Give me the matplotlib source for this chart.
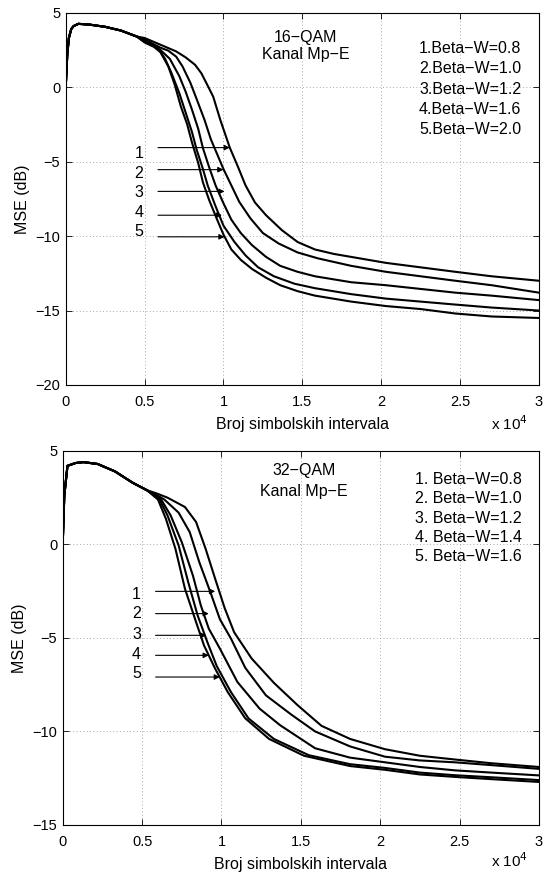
import numpy as np
import matplotlib
matplotlib.use('Agg')
import matplotlib.pyplot as plt

plt.rcParams['font.family'] = ['Liberation Sans', 'DejaVu Sans']
plt.rcParams['font.size'] = 11.5

# x in units of 1e4 symbol intervals, y in dB
# ---------------- 16-QAM ----------------
x16_start = [0, 0.01, 0.02, 0.035, 0.05, 0.08, 0.15, 0.25, 0.35, 0.45]
y16_start = [0, 2.2, 3.3, 3.9, 4.1, 4.25, 4.2, 4.05, 3.8, 3.4]

x16_1 = [0.5, 0.6, 0.7, 0.76, 0.82, 0.86, 0.9, 0.935, 0.98, 1.04, 1.09, 1.14, 1.2, 1.27, 1.37, 1.47, 1.58, 1.7, 1.81, 2.03, 2.25, 2.47, 2.7, 3.0]
y16_1 = [3.3, 2.85, 2.4, 2.0, 1.5, 0.93, 0.1, -0.64, -2.2, -4.06, -5.3, -6.6, -7.75, -8.6, -9.6, -10.4, -10.9, -11.2, -11.4, -11.8, -12.1, -12.4, -12.7, -13.0]
x16_2 = [0.5, 0.6, 0.65, 0.7, 0.74, 0.79, 0.83, 0.88, 0.92, 0.96, 1.0, 1.05, 1.1, 1.17, 1.25, 1.35, 1.47, 1.6, 1.81, 2.03, 2.25, 2.47, 2.7, 3.0]
y16_2 = [3.2, 2.65, 2.45, 2.05, 1.4, 0.3, -0.8, -2.2, -3.5, -4.5, -5.5, -6.6, -7.7, -8.8, -9.8, -10.5, -11.1, -11.5, -12.0, -12.4, -12.7, -13.0, -13.3, -13.8]
x16_3 = [0.5, 0.6, 0.66, 0.72, 0.76, 0.8, 0.84, 0.87, 0.91, 0.95, 1.0, 1.05, 1.11, 1.18, 1.27, 1.36, 1.47, 1.58, 1.81, 2.03, 2.25, 2.47, 2.7, 3.0]
y16_3 = [3.15, 2.5, 1.9, 0.74, -0.3, -1.5, -2.8, -4.1, -5.4, -6.6, -7.8, -8.9, -9.8, -10.6, -11.4, -12.0, -12.4, -12.7, -13.1, -13.3, -13.55, -13.8, -14.0, -14.3]
x16_4 = [0.5, 0.58, 0.63, 0.67, 0.72, 0.76, 0.8, 0.83, 0.87, 0.9, 0.95, 1.0, 1.07, 1.14, 1.22, 1.32, 1.45, 1.58, 1.81, 2.03, 2.25, 2.47, 2.7, 3.0]
y16_4 = [3.05, 2.7, 1.9, 0.96, -0.4, -1.7, -3.0, -4.2, -5.5, -6.6, -8.0, -9.3, -10.4, -11.3, -12.1, -12.7, -13.2, -13.5, -13.9, -14.2, -14.4, -14.6, -14.8, -15.0]
x16_5 = [0.5, 0.56, 0.6, 0.65, 0.69, 0.73, 0.77, 0.8, 0.84, 0.87, 0.91, 0.96, 1.0, 1.05, 1.11, 1.18, 1.27, 1.36, 1.47, 1.58, 1.81, 2.03, 2.25, 2.47, 2.7, 3.0]
y16_5 = [3.0, 2.7, 2.35, 1.4, 0.2, -1.3, -2.5, -3.7, -5.1, -6.4, -7.6, -8.9, -9.9, -10.9, -11.6, -12.2, -12.8, -13.3, -13.7, -14.0, -14.4, -14.7, -14.9, -15.2, -15.4, -15.5]

labels16 = ['1.Beta\u2212W=0.8', '2.Beta\u2212W=1.0', '3.Beta\u2212W=1.2',
            '4.Beta\u2212W=1.6', '5.Beta\u2212W=2.0']
arrow16_y = [-4.06, -5.54, -7.0, -8.6, -10.05]
arrow16_end = [1.04, 1.0, 1.007, 0.99, 1.007]
num16_y = [-4.46, -5.8, -7.07, -8.4, -9.7]

# ---------------- 32-QAM ----------------
x32_start = [0, 0.01, 0.03, 0.08, 0.13, 0.22, 0.33, 0.44, 0.53]
y32_start = [0, 2.6, 4.2, 4.35, 4.4, 4.3, 3.9, 3.3, 2.9]

x32_1 = [0.6, 0.66, 0.77, 0.84, 0.9, 0.96, 1.02, 1.08, 1.19, 1.33, 1.48, 1.63, 1.81, 2.03, 2.25, 2.47, 2.7, 3.0]
y32_1 = [2.7, 2.5, 2.0, 1.2, -0.23, -1.83, -3.4, -4.7, -6.1, -7.4, -8.6, -9.7, -10.4, -10.95, -11.3, -11.5, -11.7, -11.9]
x32_2 = [0.6, 0.64, 0.73, 0.8, 0.86, 0.93, 0.99, 1.06, 1.15, 1.28, 1.44, 1.59, 1.81, 2.03, 2.25, 2.47, 2.7, 3.0]
y32_2 = [2.6, 2.4, 1.7, 0.66, -0.94, -2.55, -4.0, -5.04, -6.6, -8.07, -9.1, -10.0, -10.8, -11.35, -11.55, -11.65, -11.8, -12.0]
x32_3 = [0.6, 0.62, 0.68, 0.75, 0.82, 0.87, 0.92, 0.99, 1.1, 1.24, 1.37, 1.59, 1.81, 2.03, 2.25, 2.47, 2.7, 3.0]
y32_3 = [2.55, 2.4, 1.55, 0.12, -1.66, -3.26, -4.5, -5.57, -7.35, -8.78, -9.67, -10.9, -11.4, -11.65, -11.9, -12.08, -12.2, -12.35]
x32_4 = [0.6, 0.61, 0.66, 0.73, 0.79, 0.85, 0.91, 0.97, 1.06, 1.17, 1.33, 1.55, 1.81, 2.03, 2.25, 2.47, 2.7, 3.0]
y32_4 = [2.5, 2.4, 1.55, -0.05, -2.0, -3.8, -5.2, -6.5, -7.9, -9.3, -10.4, -11.27, -11.75, -11.95, -12.2, -12.34, -12.45, -12.6]
x32_5 = [0.6, 0.65, 0.71, 0.77, 0.84, 0.89, 0.96, 1.04, 1.15, 1.3, 1.52, 1.81, 2.03, 2.25, 2.47, 2.7, 3.0]
y32_5 = [2.4, 1.37, -0.23, -2.37, -4.15, -5.4, -6.64, -7.9, -9.3, -10.4, -11.3, -11.85, -12.05, -12.3, -12.43, -12.55, -12.7]

labels32 = ['1. Beta\u2212W=0.8', '2. Beta\u2212W=1.0', '3. Beta\u2212W=1.2',
            '4. Beta\u2212W=1.4', '5. Beta\u2212W=1.6']
arrow32_y = [-2.51, -3.7, -4.86, -5.93, -7.09]
arrow32_end = [0.96, 0.92, 0.905, 0.92, 0.99]
num32_y = [-2.67, -3.7, -4.8, -5.88, -6.9]


def style_axes(ax, ylim, yticks, h_px):
    ax.set_xlim(0, 3)
    ax.set_ylim(*ylim)
    ax.set_xticks([0, 0.5, 1, 1.5, 2, 2.5, 3])
    ax.set_xticklabels(['0', '0.5', '1', '1.5', '2', '2.5', '3'])
    ax.set_yticks(yticks)
    ax.tick_params(direction='in', top=True, right=True, length=4, width=0.6,
                   labelsize=10.5)
    ax.tick_params(axis='x', pad=7)
    ax.tick_params(axis='y', pad=4)
    ax.grid(True, linestyle=(0, (1, 3)), color='0.55', linewidth=0.6)
    for s in ax.spines.values():
        s.set_linewidth(0.8)
    ax.set_xlabel('Broj simbolskih intervala', fontsize=11.5)
    ax.xaxis.set_label_coords(0.5, -32.0 / h_px)
    ax.set_ylabel('MSE (dB)', fontsize=11.5, labelpad=4)


def draw_panel(ax, xs, ys, start_x, start_y, arrow_y, arrow_end, num_y):
    for x, y in zip(xs, ys):
        ax.plot(start_x + x, start_y + y, color='k', lw=1.5)
    for ay, ae, ny, n in zip(arrow_y, arrow_end, num_y, range(1, 6)):
        ax.annotate('', xy=(ae, ay), xytext=(0.585, ay),
                    arrowprops=dict(arrowstyle='-|>', color='k', lw=0.8,
                                    mutation_scale=8, shrinkA=0, shrinkB=0))
        ax.text(0.465, ny, str(n), ha='center', va='center', fontsize=11.5)


fig = plt.figure(figsize=(5.49, 8.74), dpi=100)

ax1 = fig.add_axes([0.1197, 0.5595, 0.862, 0.426])
draw_panel(ax1, [x16_1, x16_2, x16_3, x16_4, x16_5],
           [y16_1, y16_2, y16_3, y16_4, y16_5],
           x16_start, y16_start, arrow16_y, arrow16_end, num16_y)
style_axes(ax1, (-20, 5), [-20, -15, -10, -5, 0, 5], 372.0)
ax1.text(1.52, 3.3, '16\u2212QAM', ha='center', va='center', fontsize=11.5)
ax1.text(1.52, 2.19, 'Kanal Mp\u2212E', ha='center', va='center', fontsize=11.5)
for i, lab in enumerate(labels16):
    ax1.text(2.24, 2.61 - 1.37 * i, lab, ha='left', va='center', fontsize=11.5)
ax1.text(0.977, -0.121, 'x 10$^4$', transform=ax1.transAxes, ha='right',
         va='baseline', fontsize=11)

ax2 = fig.add_axes([0.1142, 0.0561, 0.8676, 0.428])
draw_panel(ax2, [x32_1, x32_2, x32_3, x32_4, x32_5],
           [y32_1, y32_2, y32_3, y32_4, y32_5],
           x32_start, y32_start, arrow32_y, arrow32_end, num32_y)
style_axes(ax2, (-15, 5), [-15, -10, -5, 0, 5], 374.0)
ax2.text(1.52, 3.95, '32\u2212QAM', ha='center', va='center', fontsize=11.5)
ax2.text(1.52, 2.83, 'Kanal Mp\u2212E', ha='center', va='center', fontsize=11.5)
for i, lab in enumerate(labels32):
    ax2.text(2.22, 3.47 - 1.03 * i, lab, ha='left', va='center', fontsize=11.5)
ax2.text(0.977, -0.112, 'x 10$^4$', transform=ax2.transAxes, ha='right',
         va='baseline', fontsize=11)

fig.savefig('out.png', dpi=100)
